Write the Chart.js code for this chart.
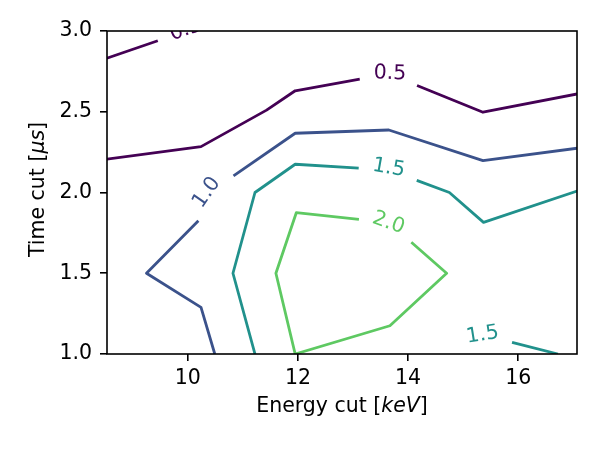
<!DOCTYPE html>
<html>
<head>
<meta charset="utf-8">
<script src="https://cdn.jsdelivr.net/npm/chart.js@4.4.1/dist/chart.umd.min.js"></script>
<style>
  body { margin: 0; background: #fff; }
  #wrap { width: 600px; height: 450px; }
</style>
</head>
<body>
<div id="wrap"><canvas id="contourChart"></canvas></div>
<script>
// contour levels and their viridis colours
const levels = ['0.5', '0.5', '1.0', '1.5', '1.5', '2.0'];
const levelColors = ['#440154', '#440154', '#3b528b', '#21918c', '#21918c', '#5ec962'];

// contour paths (energy cut in keV, time cut in us)
const c05aX = [8.53, 9.97];
const c05aY = [2.831, 3.0];
const c05bX = [8.53, 10.24, 11.43, 11.95, 13.65, 15.36, 17.07];
const c05bY = [2.206, 2.284, 2.51, 2.630, 2.734, 2.497, 2.610];
const c10X = [10.49, 10.24, 9.25, 10.24, 10.39, 11.95, 13.65, 15.36, 17.07];
const c10Y = [1.0, 1.289, 1.5, 1.842, 2.0, 2.367, 2.387, 2.197, 2.274];
const c15aX = [11.22, 10.82, 11.22, 11.95, 13.65, 14.75, 15.37, 17.07];
const c15aY = [1.0, 1.5, 2.0, 2.175, 2.14, 2.0, 1.815, 2.009];
const c15bX = [15.20, 15.36, 16.72];
const c15bY = [1.0, 1.118, 1.0];
const c20X = [11.95, 11.60, 11.97, 13.65, 14.70, 13.67, 11.95];
const c20Y = [1.0, 1.5, 1.875, 1.814, 1.5, 1.175, 1.0];

const contourX = [c05aX, c05bX, c10X, c15aX, c15bX, c20X];
const contourY = [c05aY, c05bY, c10Y, c15aY, c15bY, c20Y];

// inline labels: which contour, where the text sits, its angle
const labelContour = [0, 1, 2, 3, 4, 5];
const labelX = [9.96, 13.67, 10.33, 13.65, 15.35, 13.65];
const labelY = [3.012, 2.743, 2.003, 2.158, 1.124, 1.817];
const labelAngle = [-19, 2, -55, 10, -9, 20];

const xTicks = [10, 12, 14, 16];
const yTicks = [1.0, 1.5, 2.0, 2.5, 3.0];

const FONT = '"DejaVu Sans", sans-serif';
const FS = 20.5;
const GAP = 30; // half of the gap cut into a line for its label, px

function toPoints(xs, ys) {
    return xs.map((x, i) => ({ x: x, y: ys[i] }));
}

const datasets = contourX.map((xs, i) => ({
    label: levels[i],
    data: toPoints(xs, contourY[i]),
    showLine: true,
    borderColor: levelColors[i],
    backgroundColor: levelColors[i],
    borderWidth: 2.8,
    borderJoinStyle: 'round',
    pointRadius: 0,
    pointHoverRadius: 0,
    tension: 0,
    clip: 0
}));

// remove the piece of each line that sits under its label (like clabel inline)
function cutLines(chart) {
    const sx = chart.scales.x, sy = chart.scales.y;
    contourX.forEach((xs, ci) => {
        const px = xs.map(v => sx.getPixelForValue(v));
        const py = contourY[ci].map(v => sy.getPixelForValue(v));
        const arc = [0];
        for (let k = 1; k < px.length; k++) {
            arc.push(arc[k - 1] + Math.hypot(px[k] - px[k - 1], py[k] - py[k - 1]));
        }
        const total = arc[arc.length - 1];
        const cuts = [];
        labelContour.forEach((c, li) => {
            if (c !== ci) return;
            const lx = sx.getPixelForValue(labelX[li]);
            const ly = sy.getPixelForValue(labelY[li]);
            let best = Infinity, bestS = 0;
            for (let k = 1; k < px.length; k++) {
                const dx = px[k] - px[k - 1], dy = py[k] - py[k - 1];
                const len2 = dx * dx + dy * dy;
                let t = len2 ? ((lx - px[k - 1]) * dx + (ly - py[k - 1]) * dy) / len2 : 0;
                t = Math.max(0, Math.min(1, t));
                const d = Math.hypot(px[k - 1] + t * dx - lx, py[k - 1] + t * dy - ly);
                if (d < best) { best = d; bestS = arc[k - 1] + t * (arc[k] - arc[k - 1]); }
            }
            cuts.push([bestS - GAP, bestS + GAP]);
        });
        cuts.sort((a, b) => a[0] - b[0]);
        // kept stretches of arc length
        const keep = [];
        let start = 0;
        cuts.forEach(c => {
            if (c[0] > start) keep.push([start, Math.min(c[0], total)]);
            start = Math.max(start, c[1]);
        });
        if (start < total) keep.push([start, total]);

        function at(s) {
            let k = 1;
            while (k < arc.length - 1 && arc[k] < s) k++;
            const seg = arc[k] - arc[k - 1];
            const t = seg ? (s - arc[k - 1]) / seg : 0;
            return {
                x: sx.getValueForPixel(px[k - 1] + t * (px[k] - px[k - 1])),
                y: sy.getValueForPixel(py[k - 1] + t * (py[k] - py[k - 1]))
            };
        }
        const out = [];
        keep.forEach((r, ri) => {
            if (ri > 0) out.push({ x: at(r[0]).x, y: null });
            out.push(at(r[0]));
            for (let k = 0; k < arc.length; k++) {
                if (arc[k] > r[0] && arc[k] < r[1]) out.push({ x: xs[k], y: contourY[ci][k] });
            }
            out.push(at(r[1]));
        });
        chart.data.datasets[ci].data = out;
    });
    chart.update('none');
}

const decorPlugin = {
    id: 'decor',
    afterDatasetsDraw(chart) {
        const ctx = chart.ctx;
        const area = chart.chartArea;
        const sx = chart.scales.x, sy = chart.scales.y;

        // contour labels
        ctx.save();
        ctx.beginPath();
        ctx.rect(area.left, area.top, area.right - area.left, area.bottom - area.top);
        ctx.clip();
        ctx.font = FS + 'px ' + FONT;
        ctx.textAlign = 'center';
        ctx.textBaseline = 'middle';
        labelContour.forEach((c, i) => {
            ctx.save();
            ctx.translate(sx.getPixelForValue(labelX[i]), sy.getPixelForValue(labelY[i]));
            ctx.rotate(labelAngle[i] * Math.PI / 180);
            ctx.fillStyle = levelColors[c];
            ctx.fillText(levels[c], 0, 1);
            ctx.restore();
        });
        ctx.restore();

        // axes frame
        ctx.save();
        ctx.strokeStyle = '#000';
        ctx.lineWidth = 1.6;
        ctx.strokeRect(area.left, area.top, area.right - area.left, area.bottom - area.top);
        ctx.restore();

        // axis titles with italic units
        ctx.save();
        ctx.fillStyle = '#000';
        ctx.textBaseline = 'alphabetic';
        const xParts = [['Energy cut [', ''], ['keV', 'italic '], [']', '']];
        const yParts = [['Time cut [', ''], ['\u03bcs', 'italic '], [']', '']];
        function drawParts(parts, cx, cy, rot) {
            let w = 0;
            parts.forEach(p => { ctx.font = p[1] + FS + 'px ' + FONT; w += ctx.measureText(p[0]).width; });
            ctx.save();
            ctx.translate(cx, cy);
            ctx.rotate(rot);
            let x = -w / 2;
            ctx.textAlign = 'left';
            parts.forEach(p => {
                ctx.font = p[1] + FS + 'px ' + FONT;
                ctx.fillText(p[0], x, 0);
                x += ctx.measureText(p[0]).width;
            });
            ctx.restore();
        }
        drawParts(xParts, (area.left + area.right) / 2, 412, 0);
        drawParts(yParts, 44, (area.top + area.bottom) / 2 - 3, -Math.PI / 2);
        ctx.restore();
    }
};

const ctx = document.getElementById('contourChart').getContext('2d');
const chart = new Chart(ctx, {
    type: 'scatter',
    data: { datasets: datasets },
    options: {
        responsive: true,
        maintainAspectRatio: false,
        animation: false,
        events: [],
        layout: { padding: { left: 0, right: 23, top: 31, bottom: 0 } },
        plugins: {
            legend: { display: false },
            tooltip: { enabled: false }
        },
        scales: {
            x: {
                type: 'linear',
                min: 8.533,
                max: 17.067,
                afterFit: function(scale) { scale.height = 96; },
                afterBuildTicks: function(scale) { scale.ticks = xTicks.map(v => ({ value: v })); },
                border: { display: false },
                grid: {
                    drawOnChartArea: false,
                    drawTicks: true,
                    tickLength: 7,
                    tickColor: '#000',
                    lineWidth: 1.6
                },
                ticks: {
                    color: '#000',
                    padding: 5,
                    maxRotation: 0,
                    font: { family: FONT, size: FS },
                    callback: v => String(v)
                }
            },
            y: {
                type: 'linear',
                min: 1.0,
                max: 3.0,
                afterFit: function(scale) { scale.width = 107; },
                afterBuildTicks: function(scale) { scale.ticks = yTicks.map(v => ({ value: v })); },
                border: { display: false },
                grid: {
                    drawOnChartArea: false,
                    drawTicks: true,
                    tickLength: 7,
                    tickColor: '#000',
                    lineWidth: 1.6
                },
                ticks: {
                    color: '#000',
                    padding: 8,
                    font: { family: FONT, size: FS },
                    callback: v => v.toFixed(1)
                }
            }
        }
    },
    plugins: [decorPlugin]
});

cutLines(chart);
</script>
</body>
</html>
